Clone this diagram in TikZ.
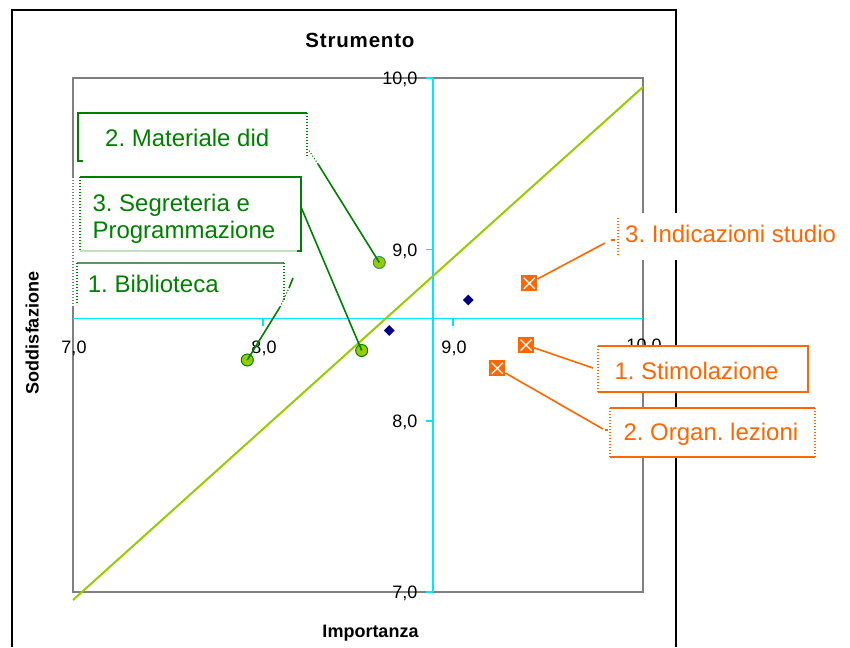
\documentclass[tikz,border=0pt]{standalone}
\usepackage{fontspec}
\setmainfont{Liberation Sans}
\frenchspacing
\usetikzlibrary{shapes.geometric}
\definecolor{dkgreen}{RGB}{0,128,0}
\definecolor{ltgreen}{RGB}{190,225,190}
\definecolor{mdgreen}{RGB}{90,150,90}
\definecolor{ptfill}{RGB}{153,204,0}
\definecolor{orng}{RGB}{255,102,0}
\definecolor{navyb}{RGB}{0,0,128}
\definecolor{axcyan}{RGB}{0,230,255}
\definecolor{bordgray}{RGB}{128,128,128}
\begin{document}
\frenchspacing
\begin{tikzpicture}[x=1pt,y=-1pt,
  tk/.style={font=\fontsize{18}{21}\selectfont, inner sep=0},
  lbl/.style={font=\fontsize{24}{28}\selectfont, inner sep=0, anchor=base west},
  axt/.style={font=\bfseries\fontsize{18}{21}\selectfont, inner sep=0},
  gpt/.style={circle, fill=ptfill, draw=dkgreen, line width=1pt, minimum size=12pt, inner sep=0},
  dia/.style={diamond, fill=navyb, minimum width=11pt, minimum height=11pt, inner sep=0},
  sq/.style={rectangle, fill=orng, minimum size=16pt, inner sep=0,
    path picture={\draw[white, line width=1.4pt]
      ([shift={(2.5pt,2.5pt)}]path picture bounding box.south west) --
      ([shift={(-2.5pt,-2.5pt)}]path picture bounding box.north east)
      ([shift={(2.5pt,-2.5pt)}]path picture bounding box.north west) --
      ([shift={(-2.5pt,2.5pt)}]path picture bounding box.south east);}},
  gline/.style={draw=dkgreen, line width=1.6pt},
  oline/.style={draw=orng, line width=1.6pt},
  dots/.style={dash pattern=on 1pt off 2pt}
]
\useasboundingbox[fill=white] (0,0) rectangle (850,647);

% outer frame
\draw[black, line width=2pt] (12,647) -- (12,10) -- (676,10) -- (676,647);

% plot area border
\draw[bordgray, line width=1.5pt] (73,177) -- (73,78) -- (643,78) -- (643,592) -- (73,592) -- (73,307);
\draw[bordgray, line width=1.5pt, dots] (73,177) -- (73,307);

% axes
\draw[axcyan, line width=1.3pt] (433,78) -- (433,592);
\draw[axcyan, line width=1.3pt] (73,318.5) -- (643,318.5);
\foreach \tx in {263,453} \draw[axcyan, line width=1.3pt] (\tx,318.5) -- (\tx,325.5);
\foreach \ty in {78,249.5,421,592} \draw[axcyan, line width=1.3pt] (426,\ty) -- (433,\ty);

% trend line
\draw[ptfill, line width=2pt] (73,600) -- (643,87);

% tick labels
\node[tk, anchor=base] (x7) at (74,353.5) {7,0};
\node[tk, anchor=base] (x8) at (264,353.5) {8,0};
\node[tk, anchor=base] (x9) at (454,353.5) {9,0};
\node[tk, anchor=base] (x10) at (644,351) {10,0};
\node[tk, anchor=base east] (y10) at (417.5,84.5) {10,0};
\node[tk, anchor=base east] (y9) at (417.5,256) {9,0};
\node[tk, anchor=base east] (y8) at (417.5,427.5) {8,0};
\node[tk, anchor=base east] (y7) at (417.5,598.5) {7,0};

% titles
\node[font=\bfseries\fontsize{20.5}{24}\selectfont\addfontfeature{LetterSpace=4}, inner sep=0, anchor=base] (title) at (360,47.3) {Strumento};
\node[axt, anchor=base] (xlab) at (370.5,637.7) {Importanza};
\node[axt, anchor=base, rotate=90] (ylab) at (38.5,333) {Soddisfazione};

% data points
\node[dia] (d1) at (389.3,330.5) {};
\node[dia] (d2) at (468.3,300) {};
\node[gpt, draw={rgb,255:red,60;green,140;blue,110}] (p2) at (379.3,262.5) {};
\node[gpt] (p3) at (361.7,350.5) {};
\node[gpt] (p1) at (247.3,360) {};
\node[sq] (s3) at (529.3,283.3) {};
\node[sq] (s1) at (526,345) {};
\node[sq] (s2) at (497.3,368.3) {};

% green leader lines
\coordinate (m1) at (318,164);
\coordinate (m2) at (308,149);
\draw[gline] (p2.center) -- (m1);
\draw[gline, line width=1.2pt, dots] (m1) -- (m2);
\coordinate (g1) at (301,207);
\draw[gline] (p3.center) -- (g1);
\coordinate (b1) at (280,307);
\coordinate (b2) at (289,288);
\coordinate (b3) at (293,278);
\draw[gline] (p1.center) -- (b1);
\draw[gline, line width=1.2pt, dots] (b1) -- (b2);
\draw[gline] (b2) -- (b3);

% orange leader lines
\coordinate (o3) at (605,243);
\draw[oline] (s3) -- (o3);
\coordinate (o1) at (593,368);
\draw[oline] (s1) -- (o1);
\coordinate (o2) at (603,429);
\draw[oline] (s2) -- (o2);

% green label boxes
\draw[gline] (307,113) -- (78,113) -- (78,161) -- (83,161);
\draw[gline, line width=1.2pt, dots] (307,113) -- (307,158);
\node[lbl, text=dkgreen] (t2) at (105,146.7) {2. Materiale did};

\draw[gline] (80,177) -- (301,177) -- (301,251) -- (297,251);
\draw[ltgreen, line width=1.4pt] (80,251) -- (297,251);
\draw[gline, line width=1.2pt, dots] (80,177) -- (80,251);
\node[lbl, text=dkgreen] (t3a) at (92.3,211.7) {3. Segreteria e};
\node[lbl, text=dkgreen] (t3b) at (92.3,238.3) {Programmazione};

\draw[mdgreen, line width=1.4pt] (77,263) -- (284,263);
\draw[gline, line width=1.2pt, dots] (77,263) -- (77,305);
\draw[gline, line width=1.2pt, dots] (284,263) -- (284,300);
\node[lbl, text=dkgreen] (t1) at (87.7,292.7) {1. Biblioteca};

% orange label boxes
\fill[white] (615,213) rectangle (845,260);
\draw[oline, line width=1.2pt, dots] (618,218) -- (618,256);
\draw[oline, line width=1.2pt] (611,240) -- (615,240);
\node[lbl, text=orng] (t6) at (625,242.3) {3. Indicazioni studio};

\fill[white] (598,346) rectangle (808,392);
\draw[oline] (598,346) -- (808,346) -- (808,392) -- (598,392);
\draw[oline, line width=1.2pt, dots] (598,346) -- (598,392);
\node[lbl, text=orng] (t4) at (614.3,379) {1. Stimolazione};

\fill[white] (610,408) rectangle (815,457);
\draw[oline] (610,408) -- (815,408);
\draw[oline] (610,457) -- (815,457);
\draw[oline, line width=1.2pt, dots] (610,408) -- (610,457);
\draw[oline, line width=1.2pt, dots] (815,408) -- (815,457);
\draw[oline, line width=1.2pt] (605,430) -- (608,430);
\node[lbl, text=orng] (t5) at (623.3,440.7) {2. Organ. lezioni};
\end{tikzpicture}
\end{document}
